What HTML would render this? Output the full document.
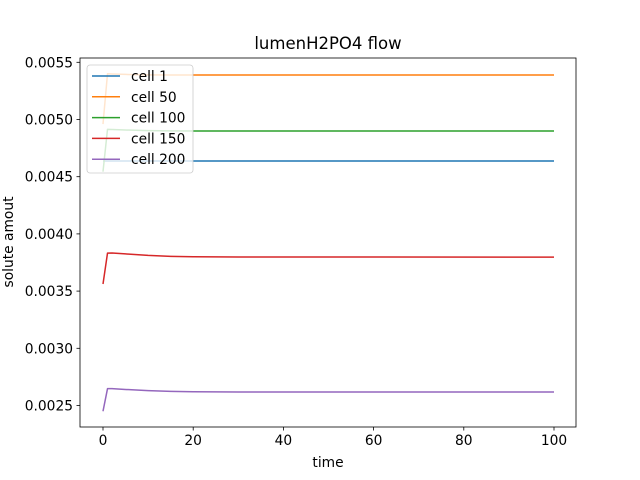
<!DOCTYPE html>
<html><head><meta charset="utf-8"><style>
body{margin:0;background:#fff;}
svg{display:block;font-family:"DejaVu Sans","Liberation Sans",sans-serif;}
</style></head><body>
<svg id="chart" width="640" height="480" xmlns="http://www.w3.org/2000/svg">
<rect width="640" height="480" fill="#fff"/>
<text x="328" y="49" font-size="16.5" text-anchor="middle">lumenH2PO4 flow</text>
<text x="328" y="467" font-size="13.8" text-anchor="middle">time</text>
<text transform="translate(13,242) rotate(-90)" font-size="13.8" text-anchor="middle">solute amout</text>
<g id="plot"></g>
</svg>
<script>
const times = [0, 1, 2, 5, 10, 15, 20, 30, 100];
const cell1 = [0.004637, 0.004637, 0.004637, 0.004637, 0.004637, 0.004637, 0.004637, 0.004637, 0.004637];
const cell50 = [0.00496, 0.00540, 0.005398, 0.005394, 0.00539, 0.005389, 0.005389, 0.005389, 0.005389];
const cell100 = [0.004544, 0.004914, 0.004913, 0.004908, 0.004903, 0.004901, 0.0049, 0.0049, 0.0049];
const cell150 = [0.003562, 0.003832, 0.003833, 0.003825, 0.003812, 0.003804, 0.0038, 0.003798, 0.003797];
const cell200 = [0.00245, 0.002647, 0.002647, 0.002640, 0.002630, 0.002623, 0.00262, 0.002618, 0.002618];
const seriesNames = ["cell 1", "cell 50", "cell 100", "cell 150", "cell 200"];
const seriesData = [cell1, cell50, cell100, cell150, cell200];
const xTicks = [0, 20, 40, 60, 80, 100];
const yTicks = [0.0025, 0.0030, 0.0035, 0.0040, 0.0045, 0.0050, 0.0055];
const yTickLabels = ["0.0025", "0.0030", "0.0035", "0.0040", "0.0045", "0.0050", "0.0055"];

const colors = ["#1f77b4", "#ff7f0e", "#2ca02c", "#d62728", "#9467bd"];
const L = 80, R = 576, T = 58, B = 427;
function xs(v){ return 103 + (v - 0) * (554 - 103) / 100; }
function ys(v){ return 405.5 - (v - 0.0025) * (405.5 - 62.3) / 0.003; }
const NS = "http://www.w3.org/2000/svg";
const g = document.getElementById("plot");
function mk(tag, attrs, parent){ const e = document.createElementNS(NS, tag); for (const k in attrs) e.setAttribute(k, attrs[k]); (parent || g).appendChild(e); return e; }

seriesData.forEach((s, i) => {
  const d = s.map((v, j) => (j ? "L" : "M") + xs(times[j]).toFixed(2) + "," + ys(v).toFixed(2)).join(" ");
  const p = mk("path", {d: d, fill: "none", stroke: colors[i], "stroke-width": 1.5, "stroke-linejoin": "round"});
  
  
});

const frame = mk("rect", {x: L, y: T, width: R - L, height: B - T, fill: "none", stroke: "#000", "stroke-width": 0.8});



xTicks.forEach(v => {
  const x = xs(v);
  const t = mk("line", {x1: x, x2: x, y1: B, y2: B + 3.5, stroke: "#000", "stroke-width": 0.8});
  
  
  const lb = mk("text", {x: x, y: B + 18, "font-size": 13.8, "text-anchor": "middle"});
  lb.textContent = v;
  
  
});
yTicks.forEach((v, i) => {
  const y = ys(v);
  const t = mk("line", {x1: L - 3.5, x2: L, y1: y, y2: y, stroke: "#000", "stroke-width": 0.8});
  
  
  const lb = mk("text", {x: L - 7, y: y + 5, "font-size": 13.8, "text-anchor": "end"});
  lb.textContent = yTickLabels[i];
  
  
});

const lg = mk("g", {});


mk("rect", {x: 87, y: 65, width: 106, height: 108, rx: 3, fill: "#fff", "fill-opacity": 0.8, stroke: "#ccc", "stroke-width": 0.8}, lg);
seriesNames.forEach((n, i) => {
  const y = 76 + i * 20.8;
  const e = mk("g", {}, lg);
  
  
  mk("line", {x1: 92, x2: 120, y1: y, y2: y, stroke: colors[i], "stroke-width": 1.5}, e);
  const t = mk("text", {x: 131, y: y + 5, "font-size": 13.8}, e);
  t.textContent = n;
});
</script>
</body></html>
